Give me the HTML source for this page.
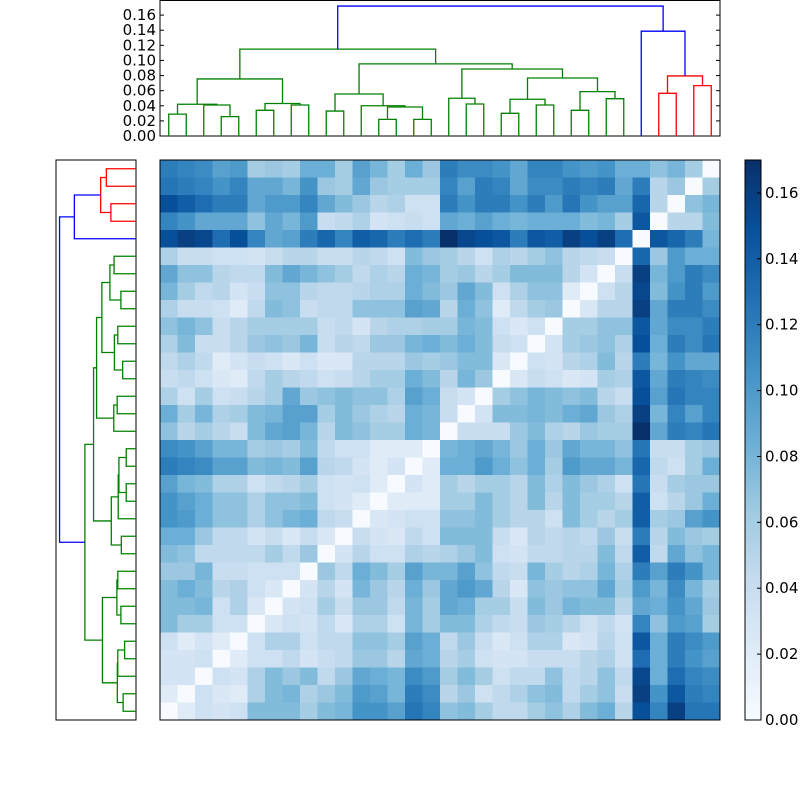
<!DOCTYPE html>
<html><head><meta charset="utf-8"><style>
html,body{margin:0;padding:0;background:#fff;}
svg{display:block;font-family:"DejaVu Sans","Liberation Sans",sans-serif;}
</style></head><body>
<svg id="chart" width="800" height="800" viewBox="0 0 800 800" xmlns="http://www.w3.org/2000/svg">
<rect x="0" y="0" width="800" height="800" fill="#fff"/>
<g id="heat"></g>
<g id="topd"></g>
<g id="leftd"></g>
<g id="cbar"></g>
</svg>
<script>
const values = [
[12,11.5,11,9.5,10,6,6.5,6,8.5,8.5,6,9.5,8,6,8.5,6.5, 12,11,11,10.5,9,11.5,11.5,10.5,10,10.5,8.5,8.5,7,8,6,0],
[12.5,12,11.5,10.5,11.5,9,9,8,10.5,6.5,6,9,6.5,6,6,6, 11.5,9.5,12,11.5,9,11,11,12,11.5,12,9,12,5,6.5,0,6],
[15,14,13,12,12,9,10,10,11.5,9,7.5,6.5,5,5.5,3.5,3.5, 12,10.5,12,12,10.5,12,10,12.5,10.5,9.5,9.5,13.5,5,0,7,8],
[11.5,10.5,9,9,9,7,9,8,10,4,4.5,5.5,3,3.5,4,3.5, 9,8.5,9.5,8.5,8,8.5,8.5,8.5,7.5,8,6,14.5,0,5,5,7.5],
[15,16,15.5,13,15,11.5,9,9.5,12,13.5,11.5,14,13.5,12,13,12, 17,15.5,15,14.5,12,14.5,14,16,15,16,13,0,14.5,13.5,12,8],
[5.5,4,4,3.5,3.5,3,4,5,5,4,4,5,4.5,3.5,7.5,6.5, 6,5,3.5,5.5,5,6,7,5,4.5,4,0,13.5,6.5,10,8.5,8.5],
[9,7,7,5,4.5,4.5,7.5,9,8,7,6,4.5,5.5,5,8.5,8, 6,6.5,5,6,7.5,7.5,7.5,5,3,0,4,16,8,10,12,11],
[8,6,4.5,5,3,4,7,7,5,4.5,4.5,5,5.5,5.5,8.5,7.5, 6.5,9,7.5,3.5,5.5,7,7,2,0,3.5,5,15.5,7.5,10.5,12,10],
[5.5,4,4,3.5,2,4.5,7.5,7,4,4.5,4.5,7,7,7,9.5,9, 5,8.5,7,2,4.5,6,6.5,0,2.5,5,5,16,9,12,12,11],
[7,8,7,4,5,6,6,6,6,4,4.5,3,5,5.5,5.5,6, 6,8,7.5,3.5,2.5,3.5,0,6,6,7,7,14.5,9,11,11,12],
[5.5,7.5,4,4,5,6.5,7,6.5,8,4,5,4.5,6.5,6.5,8,8.5, 7.5,8.5,7.5,4,3.5,0,3,6,6.5,7,5.5,15,8.5,12,11,12.5],
[4.5,5.5,4.5,2,3,4,3.5,2.5,3.5,2.5,2.5,5,5,5,6.5,6, 6.5,7.5,7.5,2.5,0,3.5,3,5,5.5,7.5,5,12,8,10.5,9,9],
[4,4.5,3.5,2.5,2,4.5,6,5,4.5,3.5,4,5,6,6,8.5,7.5, 5,8,6.5,0,2.5,4,3.5,2.5,3,6,5.5,14.5,9,12,11.5,11],
[5.5,3.5,6,3.5,4,5,6,9,6.5,7,7.5,7,7,5.5,9.5,8.5, 4,3,0,6,7,8,7.5,7,7.5,5,4,15,9.5,12.5,11.5,11.5],
[8.5,6,8,5.5,6,7.5,8,9.5,9.5,6,7.5,6.5,5.5,5,8.5,8, 4,0,3,7.5,7.5,8,7.5,8.5,9,6.5,5.5,16,8,11.5,9.5,11.5],
[7,5,6,5,4,7.5,9,9.5,8,5,7.5,7,6,6,8.5,8, 0,4,4,4,6.5,7.5,5.5,5,6.5,6,6,17,9,12,11.5,12.5],
[11,10.5,9.5,8,8,6,6.5,6,7.5,4.5,3.5,3.5,2,2,2,0, 8,8.5,9,8,6.5,8.5,6.5,9,8,8,7,12.5,4,4,6,6.5],
[12,11.5,11,9.5,9.5,7.5,8,7.5,9.5,5,4.5,3,2,3,0,2, 8.5,8.5,10,8.5,7,8.5,6,10,9,9,8,13.5,4.5,3.5,6,8.5],
[9.5,8,7.5,5.5,5.5,3.5,4.5,5,6,3.5,3,3.5,2,0,3,2, 6,5,6,6,5,7.5,5.5,7.5,6.5,5.5,3.5,12.5,4,6,6.5,6.5],
[10.5,9.5,8.5,7,7,5.5,7,7,7.5,3.5,3,2,0,2,2,2, 6,6,7.5,6,5,7.5,5,7.5,6,6,5,14,3.5,5,6.5,8.5],
[10.5,10,8.5,7,7,5.5,7,8,8.5,4.5,4,0,2.5,3,3.5,3.5, 7,7,7.5,6,5,5,3.5,7.5,6,5,6,14,6,6.5,9.5,10.5],
[8.5,8.5,6.5,4.5,4.5,3,4,2.5,4,2.5,0,4,3,2.5,4.5,3.5, 7.5,7.5,7.5,4,2.5,5,4.5,5,4.5,6.5,4,12,5,7.5,6.5,6],
[7.5,7,4.5,4.5,4.5,4.5,6,4.5,6.5,0,3,5,3.5,3.5,5.5,5, 5.5,6.5,7.5,3.5,3,4.5,4.5,5,5,7.5,4.5,14,4.5,9,7,8],
[6.5,6.5,8,4,4,3.5,3.5,3.5,0,6.5,4.5,8.5,7.5,6,9.5,8, 8,9.5,7,4.5,4,8,6,5,5.5,8,5.5,12,9.5,12,10.5,8],
[7.5,8.5,7.5,5,5.5,3.5,2.5,0,3,5,3,8,6.5,5,8.5,6.5, 9,10,9,5,2.5,7,6.5,7,7,9,6,10,8,11,8,6],
[7.5,7.5,8,3.5,5.5,2.5,0,3,3.5,6,4,6.5,6.5,4.5,8,6, 9,8.5,6,6,4,7.5,6.5,8,7.5,7.5,5,9,8.5,10.5,9,6.5],
[7.5,6,6,3.5,3.5,0,2.5,3.5,3,4.5,2.5,5.5,5.5,3.5,8,6, 7.5,7.5,5.5,4.5,4,6.5,6,5,3.5,4.5,3,11.5,7,10,9.5,6],
[3.5,2,3,2,0,3.5,5.5,5.5,3.5,4.5,4.5,7,7,6,9.5,8.5, 4.5,6.5,4,2.5,3.5,5.5,5.5,2.5,3,5,3.5,14.5,8.5,12,11,10],
[3,3,3.5,0,2,3.5,3.5,4.5,3,4,4.5,6.5,6.5,5,9,8.5, 5,6,3.5,3,3,4,4,4,5,5.5,3.5,13,8.5,12,10.5,9.5],
[3,3,0,3.5,3,5.5,7.5,6.5,7.5,4.5,6.5,9,8.5,8,11,10, 6,7.5,6,3.5,4.5,4.5,7,4.5,5,7,4.5,15.5,8.5,13,11.5,11],
[2,0,3.5,2.5,2,5.5,7.5,8,5.5,6.5,7.5,10,9.5,8,12,11, 5,6.5,3.5,4.5,5.5,7,7.5,4.5,6,7,4,16,10.5,14.5,12,11.5],
[0,2,3.5,3,3.5,7.5,7.5,7.5,6,7.5,8,10.5,10.5,9.5,12.5,11.5, 7,7.5,6,4.5,4.5,6,7,5.5,7.5,8.5,5,15,11.5,16,12.5,12.5]
];
// dendrogram links: [leftLeafPos, rightLeafPos, leftHeight, rightHeight, mergeHeight]
const linkPositions = [
[0,1,0,0,.029],[3,4,0,0,.0256],[2,3.5,0,.0256,.041],[0.5,2.75,.029,.041,.042],
[5,6,0,0,.034],[7,8,0,0,.041],[5.5,7.5,.034,.041,.043],[1.625,6.5,.042,.043,.0755],
[9,10,0,0,.033],[12,13,0,0,.022],[14,15,0,0,.022],[12.5,14.5,.022,.022,.0384],
[11,13.5,0,.0384,.040],[9.5,12.25,.033,.040,.0556],
[17,18,0,0,.0424],[16,17.5,0,.0424,.050],[19,20,0,0,.030],[21,22,0,0,.041],
[19.5,21.5,.030,.041,.0486],[23,24,0,0,.034],[25,26,0,0,.0494],[23.5,25.5,.034,.0494,.0587],
[20.5,24.5,.0486,.0587,.0768],[16.75,22.5,.050,.0768,.0887],[10.875,19.625,.0556,.0887,.0955],
[4.0625,15.25,.0755,.0955,.115],
[28,29,0,0,.0565],[30,31,0,0,.0667],[28.5,30.5,.0565,.0667,.0795],
[27,29.5,0,.0795,.1387],[9.656,28.25,.115,.1387,.172]
];
const linkColors = ['g','g','g','g','g','g','g','g','g','g','g','g','g','g','g','g','g','g','g','g','g','g','g','g','g','g','r','r','r','b','b'];
const dendroTicks = [0,0.02,0.04,0.06,0.08,0.10,0.12,0.14,0.16];
const cbarTicks = [0,0.02,0.04,0.06,0.08,0.10,0.12,0.14,0.16];

const NS='http://www.w3.org/2000/svg';
const N=32, HX=160, HY=160, HS=560, cw=HS/N, VMAX=0.17, DMAX=0.18;
const colMap={g:'#008000',r:'#ff0000',b:'#0000ff'};
const stops=['#f7fbff','#deebf7','#c6dbef','#9ecae1','#6baed6','#4292c6','#2171b5','#08519c','#08306b'];
function hex(h){return [1,3,5].map(i=>parseInt(h.substr(i,2),16));}
function blues(t){t=Math.max(0,Math.min(1,t))*(stops.length-1);const i=Math.min(stops.length-2,Math.floor(t)),f=t-i;const a=hex(stops[i]),b=hex(stops[i+1]);return 'rgb('+a.map((v,k)=>Math.round(v+(b[k]-v)*f)).join(',')+')';}
function mk(tag,attrs,parent){const e=document.createElementNS(NS,tag);for(const k in attrs)e.setAttribute(k,attrs[k]);parent.appendChild(e);return e;}

// heatmap
const heat=document.getElementById('heat');
const xCell=c=>HX+c*cw, yCell=r=>HY+r*cw;
values.forEach((row,r)=>row.forEach((v,c)=>{
  const e=mk('rect',{x:xCell(c),y:yCell(r),width:cw+0.3,height:cw+0.3,fill:blues(v/100/VMAX)},heat);
  
  
}));
mk('rect',{x:HX,y:HY,width:HS,height:HS,fill:'none',stroke:'#000','stroke-width':1},heat);

// top dendrogram
const topd=document.getElementById('topd');
const TX=HX,TW=HS,TY0=136,TH=136;
const leafX=p=>HX+(p+0.5)*cw, hY=h=>TY0-h/DMAX*TH;
mk('rect',{x:TX,y:0.5,width:TW,height:TY0-0.5,fill:'none',stroke:'#000','stroke-width':1},topd);
linkPositions.forEach((L,i)=>{
  const x1=leafX(L[0]),x2=leafX(L[1]);
  const e=mk('polyline',{points:`${x1},${hY(L[2])} ${x1},${hY(L[4])} ${x2},${hY(L[4])} ${x2},${hY(L[3])}`,fill:'none',stroke:colMap[linkColors[i]],'stroke-width':1.3},topd);
  
  
});
dendroTicks.forEach(t=>{
  const y=hY(t);
  mk('line',{x1:TX,y1:y,x2:TX+4,y2:y,stroke:'#000'},topd);
  mk('line',{x1:TX+TW-4,y1:y,x2:TX+TW,y2:y,stroke:'#000'},topd);
  const tx=mk('text',{x:TX-4,y:y+5,'text-anchor':'end','font-size':15,fill:'#000'},topd);
  tx.textContent=t.toFixed(2);
  
  
});

// left dendrogram
const leftd=document.getElementById('leftd');
const LX1=136,LW=80;
const leafY=p=>HY+(N-1-p+0.5)*cw, hX=h=>LX1-h/DMAX*LW;
mk('rect',{x:LX1-LW,y:HY,width:LW,height:HS,fill:'none',stroke:'#000','stroke-width':1},leftd);
linkPositions.forEach((L,i)=>{
  const y1=leafY(L[0]),y2=leafY(L[1]);
  const e=mk('polyline',{points:`${hX(L[2])},${y1} ${hX(L[4])},${y1} ${hX(L[4])},${y2} ${hX(L[3])},${y2}`,fill:'none',stroke:colMap[linkColors[i]],'stroke-width':1.3},leftd);
  
  
});

// colorbar
const cbar=document.getElementById('cbar');
const CX=745,CW=16;
const cY=v=>HY+HS-v/VMAX*HS;
const steps=140;
for(let i=0;i<steps;i++){
  const v0=i/steps*VMAX,v1=(i+1)/steps*VMAX;
  mk('rect',{x:CX,y:cY(v1),width:CW,height:cY(v0)-cY(v1)+0.5,fill:blues((v0+v1)/2/VMAX)},cbar);
}
mk('rect',{x:CX,y:HY,width:CW,height:HS,fill:'none',stroke:'#000','stroke-width':1},cbar);
cbarTicks.forEach(t=>{
  const y=cY(t);
  mk('line',{x1:CX+CW-4,y1:y,x2:CX+CW,y2:y,stroke:'#000'},cbar);
  const tx=mk('text',{x:CX+CW+4,y:y+5,'font-size':15,fill:'#000'},cbar);
  tx.textContent=t.toFixed(2);
  
  
});
</script>
</body></html>
